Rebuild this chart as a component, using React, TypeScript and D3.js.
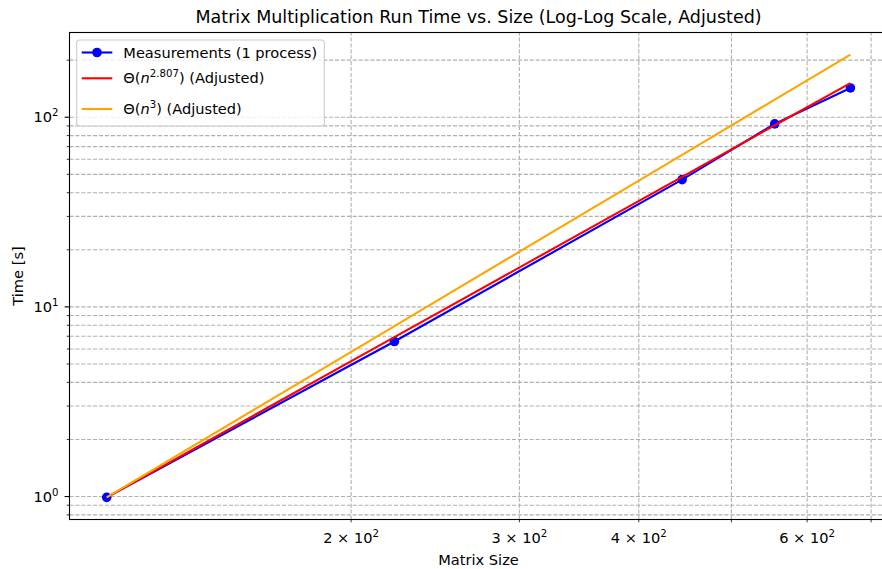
import * as d3 from 'd3';

// measured run times (1 process)
const sizes = [111, 222, 444, 555, 666];
const times = [0.99, 6.57, 46.9, 92.3, 142.7];
const strassenExp = 2.807;
const naiveExp = 3;
const xLabeled = [200, 300, 400, 600];
const xTicks = [200, 300, 400, 500, 600, 700];
const yLabeled = [1, 10, 100];

const W = 882;
const H = 569;
const FONT = 'DejaVu Sans';
const FS = '14.6px';

const fit = (k: number) => sizes.map(n => times[0] * Math.pow(n / sizes[0], k));

const App = () => {
  const strassen = fit(strassenExp);
  const naive = fit(naiveExp);

  // matplotlib-like 5% margins in log space
  const lx = d3.extent(sizes.map(Math.log10)) as [number, number];
  const allY = [...times, ...strassen, ...naive].map(Math.log10);
  const ly = d3.extent(allY) as [number, number];
  const mx = (lx[1] - lx[0]) * 0.05;
  const my = (ly[1] - ly[0]) * 0.05;

  const x = d3.scaleLog()
    .domain([10 ** (lx[0] - mx), 10 ** (lx[1] + mx)])
    .range([69.5, 887.6]);
  const y = d3.scaleLog()
    .domain([10 ** (ly[0] - my), 10 ** (ly[1] + my)])
    .range([519.5, 32.5]);

  const [y0, y1] = y.domain();
  const yTicks: number[] = [];
  for (let d = -1; d <= 3; d++) {
    for (let m = 1; m <= 9; m++) {
      const v = m * 10 ** d;
      if (v >= y0 && v <= y1) yTicks.push(v);
    }
  }

  const line = d3.line<number>()
    .x((_, i) => x(sizes[i]))
    .y(d => y(d));

  const [px0, px1] = x.range();
  const [py0, py1] = y.range();
  const supStyle = { fontSize: '10.2px' };

  return (
    <svg width={W} height={H} style={{ position: 'absolute', left: 0, top: 0 }}
      fontFamily={FONT}>
      <rect width={W} height={H} fill="#fff" />
      <text x={(px0 + px1) / 2} y={23} textAnchor="middle" fontSize="17.5px" fill="#000">
        Matrix Multiplication Run Time vs. Size (Log-Log Scale, Adjusted)
      </text>

      {/* grid */}
      <g stroke="#b0b0b0" strokeWidth={1.1} strokeDasharray="4.1,1.8">
        {xTicks.map(t => (
          <line key={'gx' + t} x1={x(t)} x2={x(t)} y1={py0} y2={py1} />
        ))}
        {yTicks.map(t => (
          <line key={'gy' + t} x1={px0} x2={px1} y1={y(t)} y2={y(t)} />
        ))}
      </g>

      {/* series */}
      <path d={line(times) ?? ''} fill="none" stroke="#0000ff" strokeWidth={2.1} />
      {sizes.map((n, i) => (
        <circle key={'p' + n} cx={x(n)} cy={y(times[i])} r={4.8} fill="#0000ff" />
      ))}
      <path d={line(strassen) ?? ''} fill="none" stroke="#ff0000" strokeWidth={2.1} />
      <path d={line(naive) ?? ''} fill="none" stroke="#ffa500" strokeWidth={2.1} />

      {/* spines */}
      <rect x={px0} y={py1} width={px1 - px0} height={py0 - py1} fill="none" stroke="#000" strokeWidth={1.1} />

      {/* x ticks */}
      {xTicks.map(t => (
        <line key={'tx' + t} x1={x(t)} x2={x(t)} y1={py0} y2={py0 + 2.8} stroke="#000" strokeWidth={0.8} />
      ))}
      {xLabeled.map(t => (
        <text key={'lx' + t} x={x(t)} y={543} textAnchor="middle" fontSize={FS} fill="#000">
          {`${t / 100} × 10`}<tspan dy={-6} style={supStyle}>2</tspan>
        </text>
      ))}

      {/* y ticks */}
      {yTicks.map(t => {
        const major = yLabeled.includes(t);
        return (
          <line key={'ty' + t} x1={px0 - (major ? 4.9 : 2.8)} x2={px0} y1={y(t)} y2={y(t)}
            stroke="#000" strokeWidth={major ? 1.1 : 0.8} />
        );
      })}
      {yLabeled.map(t => (
        <text key={'ly' + t} x={58.5} y={y(t) + 5} textAnchor="end" fontSize={FS} fill="#000">
          10<tspan dy={-6} style={supStyle}>{Math.round(Math.log10(t))}</tspan>
        </text>
      ))}

      <text x={(px0 + px1) / 2} y={565} textAnchor="middle" fontSize={FS} fill="#000">Matrix Size</text>
      <text transform={`translate(23,${(py0 + py1) / 2}) rotate(-90)`} textAnchor="middle"
        fontSize={FS} fill="#000">Time [s]</text>

      {/* legend */}
      <g>
        <rect x={76.7} y={40} width={247.6} height={86} rx={3} fill="#fff" fillOpacity={0.8}
          stroke="#cccccc" strokeWidth={1.1} />
        <line x1={81.7} x2={112.3} y1={52.5} y2={52.5} stroke="#0000ff" strokeWidth={2.1} />
        <circle cx={97} cy={52.5} r={4.8} fill="#0000ff" />
        <text x={123.3} y={57.5} fontSize={FS} fill="#000">Measurements (1 process)</text>

        <line x1={81.7} x2={112.3} y1={78.3} y2={78.3} stroke="#ff0000" strokeWidth={2.1} />
        <text x={123.3} y={83.3} fontSize={FS} fill="#000">
          Θ(<tspan fontStyle="italic">n</tspan><tspan dy={-6} style={supStyle}>{strassenExp}</tspan>
          <tspan dy={6}>) (Adjusted)</tspan>
        </text>

        <line x1={81.7} x2={112.3} y1={109} y2={109} stroke="#ffa500" strokeWidth={2.1} />
        <text x={123.3} y={114} fontSize={FS} fill="#000">
          Θ(<tspan fontStyle="italic">n</tspan><tspan dy={-6} style={supStyle}>{naiveExp}</tspan>
          <tspan dy={6}>) (Adjusted)</tspan>
        </text>
      </g>
    </svg>
  );
};

export default App;
